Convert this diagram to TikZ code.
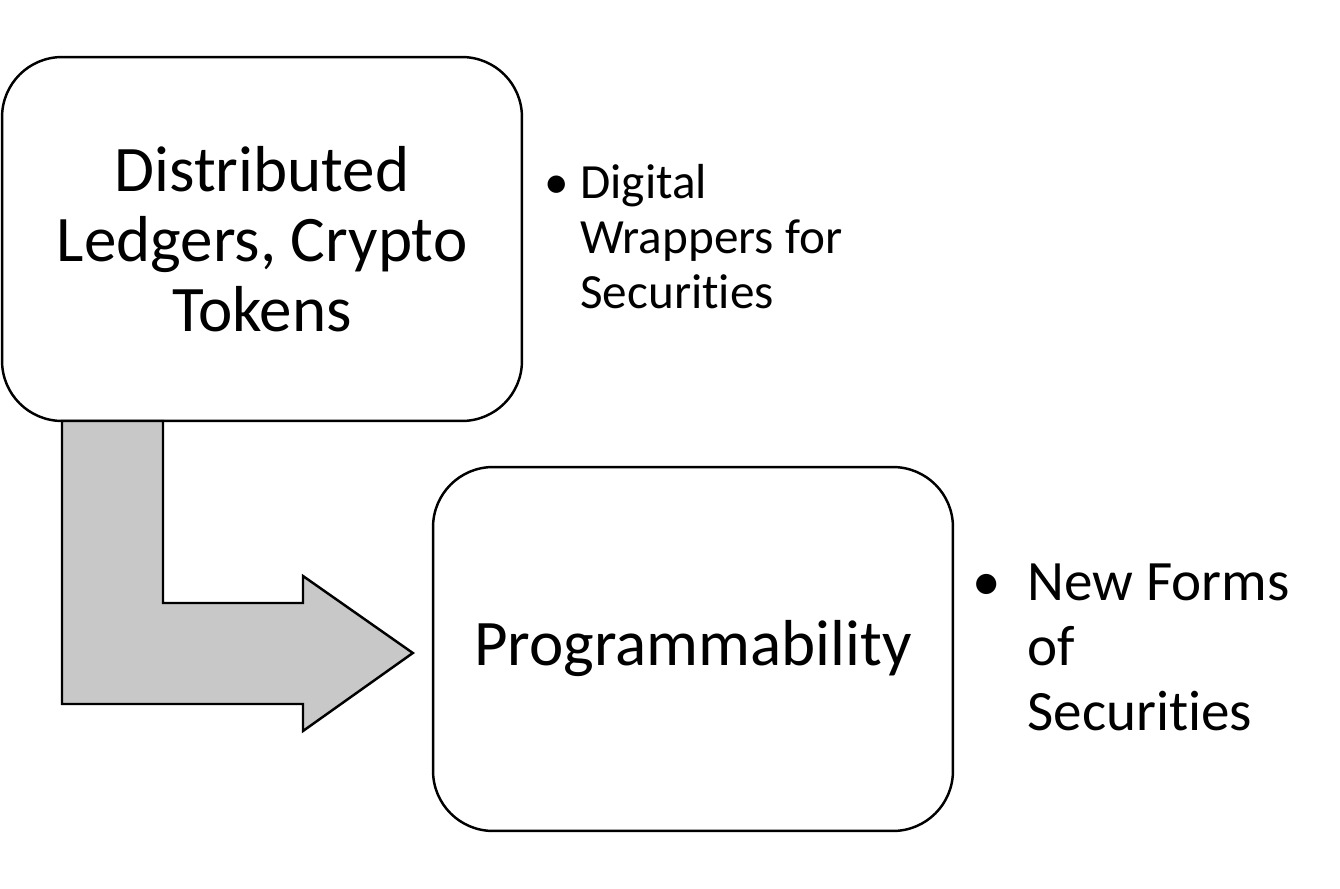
\documentclass[tikz,border=0pt]{standalone}
\usepackage{fontspec}
\setmainfont{Carlito}[Ligatures=NoCommon]
\usetikzlibrary{positioning}
\definecolor{arrowgray}{HTML}{C8C8C8}

\begin{document}
\begin{tikzpicture}[x=0.02cm,y=-0.02cm,
  stage/.style={draw=black, line width=1.4pt, rounded corners=1.2cm, rectangle, minimum width=10.4cm, minimum height=7.28cm, align=center, font=\fontsize{37}{39.7}\selectfont},
  note/.style={anchor=base west, align=left, inner sep=0pt},
  bentarrow/.style={draw=black, line width=1.4pt, fill=arrowgray, line join=miter}]
\useasboundingbox (0,0) rectangle (1340,889);
\node[stage] (ledger) at (262,239) {Distributed\\Ledgers, Crypto\\Tokens};
\node[stage] (prog) at (693,649) {Programmability};
% base anchor sits on the last line
\node[note, font=\fontsize{28}{31.2}\selectfont] (wrap) at (580,308)
  {\llap{\textbullet\hspace{0.22cm}}Digital\\Wrappers for\\Securities};
\node[note, font=\fontsize{32.5}{36.9}\selectfont] (forms) at (1027,730)
  {\llap{\textbullet\hspace{0.52cm}}New Forms\\of\\Securities};
\coordinate (tip) at ([xshift=-0.38cm,yshift=-0.08cm]prog.west);
\draw[bentarrow] (62,421) -- (62,704) -- (303,704) -- (303,731) -- (tip)
  -- (303,576) -- (303,603) -- (163,603) -- (163,421) -- cycle;
\end{tikzpicture}
\end{document}
